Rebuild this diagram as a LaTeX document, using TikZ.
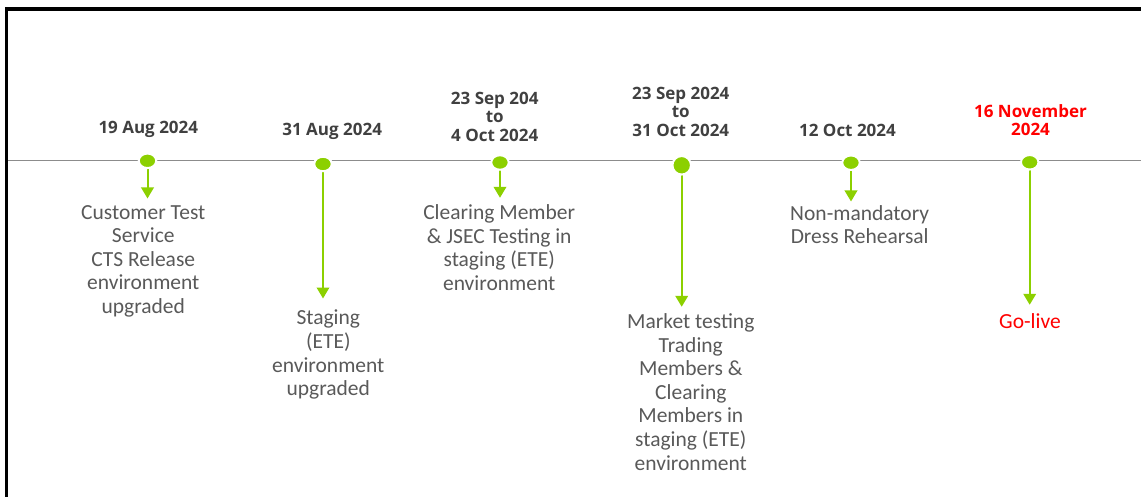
\documentclass[tikz,border=0pt]{standalone}
\usepackage{fontspec}
\setmainfont{Carlito}
\newfontfamily\datefont{Open Sans}
\usetikzlibrary{arrows.meta,shapes.geometric,positioning,calc}
\usepackage{xcolor}
\definecolor{mlgreen}{RGB}{140,208,0}
\definecolor{datetext}{RGB}{64,64,64}
\definecolor{tasktext}{RGB}{89,89,89}
\definecolor{axisgray}{RGB}{140,140,140}
\colorlet{golive}{red}
\tikzset{
    framesty/.style={draw=black,line width=3.5pt,line join=miter},
    axissty/.style={draw=axisgray,line width=1.5pt},
    dotsty/.style={ellipse,fill=mlgreen,draw=white,line width=2pt,inner sep=0pt,minimum width=17.5pt,minimum height=14.5pt},
    bigdotsty/.style={circle,fill=mlgreen,draw=white,line width=2pt,inner sep=0pt,minimum size=18.5pt},
    datesty/.style={anchor=south,align=center,inner sep=0pt,text=datetext,font=\datefont\bfseries\fontsize{17}{18.5}\selectfont},
    tasksty/.style={anchor=north,align=center,inner sep=0pt,text=tasktext,font=\fontsize{21.5}{23.6}\selectfont},
    arrsty/.style={draw=mlgreen,line width=2pt,->,shorten >=6.5pt},
}

\begin{document}
\begin{tikzpicture}[>={Triangle[width=12.5pt,length=11pt]}, x=1pt, y=-1pt]
  \useasboundingbox (0,0) rectangle (1141,497);
  \draw[framesty] (6.5,497) -- (6.5,9) -- (1141,9);
  \draw[axissty] (8,160.5) -- (1141,160.5);

  \node[datesty] (t1) at (148.3,137.7) {19 Aug 2024};
  \node[datesty] (t2) at (332.2,140) {31 Aug 2024};
  \node[datesty] (t3) at (494.7,141.7) {23 Sep 204\\to\\4 Oct 2024};
  \node[datesty] (t4) at (680.8,136.7) {23 Sep 2024\\to\\31 Oct 2024};
  \node[datesty] (t5) at (847.5,137.3) {12 Oct 2024};
  \node[datesty,text=golive] (t6) at (1030.5,136) {16 November\\2024};

  \node[tasksty] (k1) at (143.3,205) {Customer Test\\Service\\CTS Release\\environment\\upgraded};
  \node[tasksty] (k2) at (328.3,310) {Staging\\(ETE)\\environment\\upgraded};
  \node[tasksty] (k3) at (499.2,204.3) {Clearing Member\\\& JSEC Testing in\\staging (ETE)\\environment};
  \node[tasksty] (k4) at (690.8,313.3) {Market testing\\Trading\\Members \&\\Clearing\\Members in\\staging (ETE)\\environment};
  \node[tasksty] (k5) at (859.7,205) {Non-mandatory\\Dress Rehearsal};
  \node[tasksty,text=golive] (k6) at (1030,313.3) {Go-live};

  \coordinate (c1) at (147.5,160.8);
  \coordinate (c2) at (323,164);
  \coordinate (c3) at (500,162.5);
  \coordinate (c4) at (681.7,165.3);
  \coordinate (c5) at (851,162.7);
  \coordinate (c6) at (1029.7,162.3);

  \draw[arrsty] (c1) -- (c1 |- k1.north);
  \draw[arrsty,shorten >=11.5pt] (c2) -- (c2 |- k2.north);
  \draw[arrsty] (c3) -- (c3 |- k3.north);
  \draw[arrsty] (c4) -- (c4 |- k4.north);
  \draw[arrsty,shorten >=3.5pt] (c5) -- (c5 |- k5.north);
  \draw[arrsty,shorten >=8.5pt] (c6) -- (c6 |- k6.north);

  \node[dotsty] (d1) at (c1) {};
  \node[dotsty] (d2) at (c2) {};
  \node[dotsty] (d3) at (c3) {};
  \node[bigdotsty] (d4) at (c4) {};
  \node[dotsty] (d5) at (c5) {};
  \node[dotsty] (d6) at (c6) {};
\end{tikzpicture}
\end{document}
